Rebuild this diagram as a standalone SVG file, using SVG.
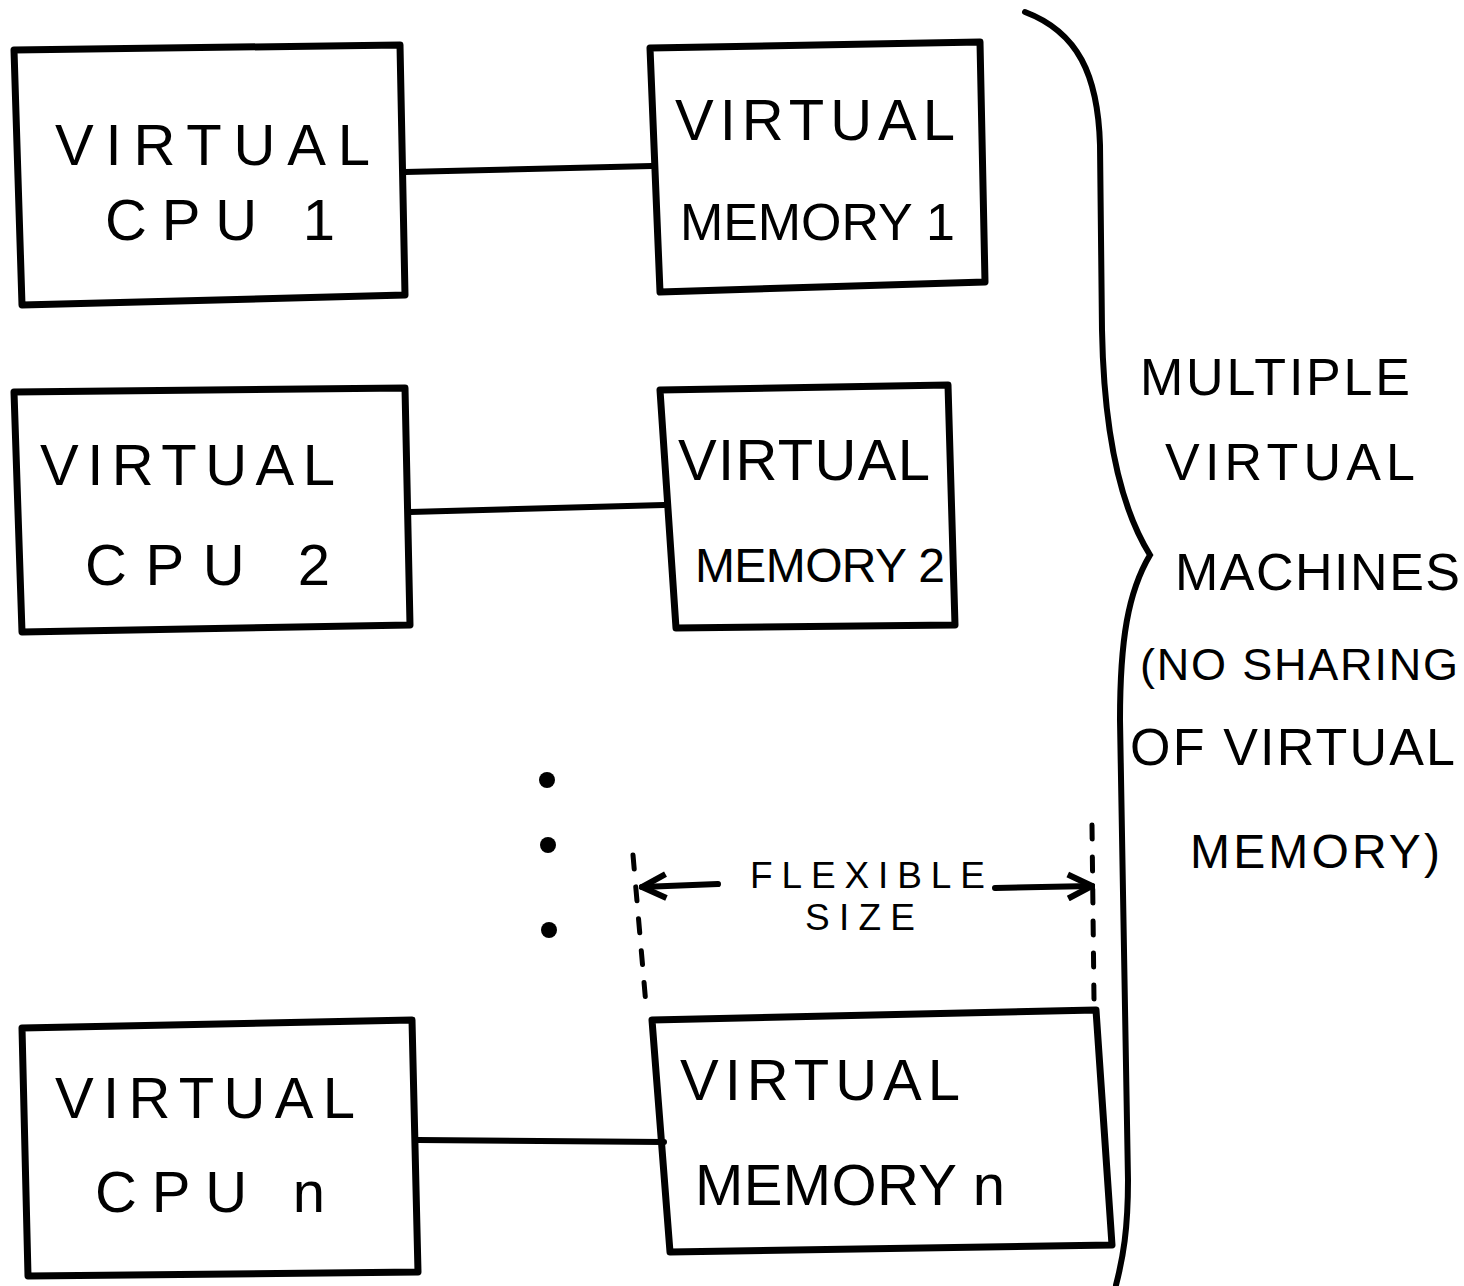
<svg xmlns="http://www.w3.org/2000/svg" width="1464" height="1286" viewBox="0 0 1464 1286">
<defs>
<style>
.box{fill:none;stroke:#000;stroke-width:7;stroke-linejoin:round}
.ln{fill:none;stroke:#000;stroke-width:6;stroke-linecap:round}
.dash{fill:none;stroke:#000;stroke-width:5;stroke-dasharray:14 18;stroke-linecap:round}
text{font-family:"Liberation Sans",Arial,sans-serif;font-size:58px;fill:#000}
.sm{font-size:37px}
.m{font-size:48px}
.n{font-size:52px}
</style>
<marker id="ah" viewBox="0 0 10 10" refX="9" refY="5" markerWidth="5" markerHeight="5" orient="auto-start-reverse" markerUnits="strokeWidth">
<path d="M1,1 L9,5 L1,9" fill="none" stroke="#000" stroke-width="2"/>
</marker>
</defs>
<rect width="1464" height="1286" fill="#fff"/>

<g id="connectors">
<path class="ln" d="M405,172 L652,166"/>
<path class="ln" d="M410,512 L664,505"/>
<path class="ln" d="M418,1140 L664,1142"/>
<path class="dash" d="M633,855 L646,1005"/>
<path class="dash" d="M1092,825 L1094,1000"/>
<path class="ln" d="M718,884 L642,887" marker-end="url(#ah)"/>
<path class="ln" d="M995,888 L1092,886" marker-end="url(#ah)"/>
</g>

<g id="cpu1">
<path class="box" d="M14,50 L400,45 L405,295 L22,305 Z"/>
<text x="55" y="165" textLength="315" lengthAdjust="spacing">VIRTUAL</text>
<text x="105" y="240" textLength="230" lengthAdjust="spacing">CPU 1</text>
</g>
<g id="mem1">
<path class="box" d="M650,48 L980,42 L985,282 L660,292 Z"/>
<text x="675" y="140" textLength="280" lengthAdjust="spacing">VIRTUAL</text>
<text class="n" x="680" y="240" textLength="275" lengthAdjust="spacing">MEMORY 1</text>
</g>

<g id="cpu2">
<path class="box" d="M14,392 L405,388 L410,625 L22,632 Z"/>
<text x="40" y="485" textLength="295" lengthAdjust="spacing">VIRTUAL</text>
<text x="85" y="585" textLength="245" lengthAdjust="spacing">CPU 2</text>
</g>
<g id="mem2">
<path class="box" d="M660,390 L948,385 L955,625 L676,628 Z"/>
<text x="678" y="480" textLength="252" lengthAdjust="spacing">VIRTUAL</text>
<text class="m" x="695" y="582" textLength="250" lengthAdjust="spacing">MEMORY 2</text>
</g>

<g id="dots">
<circle cx="547" cy="780" r="8"/>
<circle cx="548" cy="845" r="8"/>
<circle cx="549" cy="930" r="8"/>
</g>

<g id="flexible-label">
<text class="sm" x="750" y="888" textLength="235" lengthAdjust="spacing">FLEXIBLE</text>
<text class="sm" x="805" y="930" textLength="110" lengthAdjust="spacing">SIZE</text>
</g>

<g id="cpun">
<path class="box" d="M22,1028 L412,1020 L418,1272 L28,1276 Z"/>
<text x="55" y="1118" textLength="300" lengthAdjust="spacing">VIRTUAL</text>
<text x="95" y="1212" textLength="230" lengthAdjust="spacing">CPU n</text>
</g>
<g id="memn">
<path class="box" d="M652,1020 L1096,1010 L1112,1245 L670,1252 Z"/>
<text x="680" y="1100" textLength="280" lengthAdjust="spacing">VIRTUAL</text>
<text x="695" y="1205" textLength="310" lengthAdjust="spacing">MEMORY n</text>
</g>

<g id="brace">
<path class="ln" d="M1025,12 C1078,32 1098,75 1100,145 L1102,330 C1104,440 1122,510 1150,555 C1128,592 1120,640 1120,720 L1128,1180 C1128,1230 1123,1258 1116,1285"/>
</g>

<g id="note">
<text class="n" x="1140" y="395" textLength="270" lengthAdjust="spacing">MULTIPLE</text>
<text class="n" x="1165" y="480" textLength="250" lengthAdjust="spacing">VIRTUAL</text>
<text class="n" x="1175" y="590" textLength="285" lengthAdjust="spacing">MACHINES</text>
<text style="font-size:45px" x="1140" y="680" textLength="318" lengthAdjust="spacing">(NO SHARING</text>
<text class="n" x="1130" y="765" textLength="325" lengthAdjust="spacing">OF VIRTUAL</text>
<text class="m" x="1190" y="868" textLength="250" lengthAdjust="spacing">MEMORY)</text>
</g>
</svg>
